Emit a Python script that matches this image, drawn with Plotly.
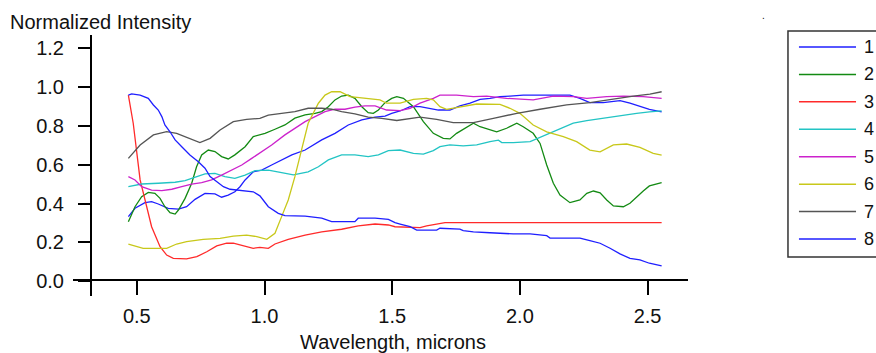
import plotly.graph_objects as go

# ---------------- data ----------------
series_names = ["1", "2", "3", "4", "5", "6", "7", "8"]
series_colors = ["#1f1fff", "#138a13", "#ff2a2a", "#22c4c4", "#cc22cc", "#c8c81a", "#555555", "#1f1fff"]

wl1 = [0.467, 0.493, 0.532, 0.558, 0.584, 0.623, 0.663, 0.695, 0.728, 0.767, 0.806, 0.832, 0.858, 0.884,
       0.904, 0.924, 0.956, 0.989, 1.028, 1.067, 1.107, 1.159, 1.224, 1.276, 1.328, 1.381, 1.433, 1.472,
       1.498, 1.531, 1.570, 1.609, 1.648, 1.681, 1.726, 1.765, 1.805, 1.844, 1.883, 1.922, 1.961, 2.013,
       2.131, 2.196, 2.235, 2.274, 2.326, 2.392, 2.431, 2.470, 2.507, 2.555]
s1 = [0.333, 0.376, 0.405, 0.410, 0.398, 0.376, 0.372, 0.384, 0.422, 0.453, 0.450, 0.433, 0.444, 0.461,
      0.487, 0.522, 0.564, 0.573, 0.599, 0.625, 0.651, 0.676, 0.728, 0.762, 0.805, 0.831, 0.845, 0.851,
      0.865, 0.877, 0.899, 0.899, 0.891, 0.882, 0.882, 0.903, 0.917, 0.937, 0.942, 0.951, 0.954, 0.959,
      0.959, 0.959, 0.942, 0.920, 0.920, 0.930, 0.917, 0.899, 0.885, 0.873]

wl2 = [0.467, 0.493, 0.519, 0.545, 0.571, 0.591, 0.610, 0.630, 0.650, 0.663, 0.689, 0.715, 0.734, 0.754,
       0.780, 0.806, 0.832, 0.858, 0.884, 0.924, 0.956, 0.982, 1.002, 1.041, 1.080, 1.119, 1.159, 1.198,
       1.224, 1.250, 1.276, 1.302, 1.328, 1.354, 1.381, 1.406, 1.426, 1.446, 1.472, 1.498, 1.518, 1.544,
       1.583, 1.622, 1.661, 1.700, 1.726, 1.752, 1.792, 1.818, 1.844, 1.883, 1.909, 1.948, 1.988, 2.013,
       2.052, 2.079, 2.105, 2.131, 2.157, 2.196, 2.235, 2.262, 2.288, 2.314, 2.340, 2.366, 2.405, 2.431,
       2.457, 2.483, 2.507, 2.555]
s2 = [0.307, 0.384, 0.436, 0.458, 0.453, 0.427, 0.384, 0.353, 0.346, 0.367, 0.427, 0.505, 0.590, 0.651,
      0.676, 0.668, 0.642, 0.630, 0.651, 0.693, 0.745, 0.754, 0.762, 0.783, 0.805, 0.840, 0.857, 0.865,
      0.874, 0.899, 0.934, 0.954, 0.959, 0.942, 0.899, 0.868, 0.865, 0.882, 0.920, 0.942, 0.951, 0.942,
      0.899, 0.822, 0.762, 0.736, 0.733, 0.762, 0.796, 0.814, 0.796, 0.779, 0.770, 0.788, 0.814, 0.796,
      0.762, 0.710, 0.599, 0.505, 0.444, 0.405, 0.419, 0.453, 0.465, 0.456, 0.419, 0.388, 0.384, 0.402,
      0.436, 0.465, 0.491, 0.508]

wl3 = [0.467, 0.486, 0.513, 0.532, 0.558, 0.591, 0.617, 0.643, 0.695, 0.735, 0.774, 0.813, 0.852, 0.878,
       0.917, 0.956, 0.982, 1.015, 1.041, 1.093, 1.159, 1.224, 1.302, 1.367, 1.433, 1.485, 1.511, 1.557,
       1.609, 1.635, 1.687, 1.707, 2.000, 2.300, 2.555]
s3 = [0.959, 0.814, 0.522, 0.419, 0.281, 0.178, 0.135, 0.118, 0.115, 0.127, 0.152, 0.182, 0.196, 0.196,
      0.182, 0.170, 0.175, 0.170, 0.192, 0.216, 0.238, 0.255, 0.268, 0.285, 0.295, 0.290, 0.281, 0.278,
      0.276, 0.285, 0.295, 0.302, 0.302, 0.302, 0.302]

wl4 = [0.467, 0.519, 0.584, 0.650, 0.689, 0.728, 0.767, 0.806, 0.845, 0.884, 0.924, 0.963, 1.015, 1.067,
       1.113, 1.171, 1.211, 1.250, 1.302, 1.354, 1.406, 1.446, 1.485, 1.531, 1.583, 1.622, 1.661, 1.687,
       1.726, 1.778, 1.831, 1.883, 1.916, 1.929, 1.974, 2.040, 2.105, 2.157, 2.209, 2.262, 2.326, 2.392,
       2.457, 2.507, 2.555]
s4 = [0.487, 0.501, 0.505, 0.510, 0.518, 0.536, 0.553, 0.556, 0.539, 0.530, 0.547, 0.570, 0.572, 0.560,
      0.548, 0.564, 0.590, 0.625, 0.651, 0.651, 0.642, 0.651, 0.673, 0.676, 0.659, 0.655, 0.673, 0.693,
      0.702, 0.697, 0.702, 0.719, 0.727, 0.714, 0.714, 0.719, 0.754, 0.783, 0.814, 0.827, 0.840, 0.852,
      0.865, 0.872, 0.878]

wl5 = [0.467, 0.493, 0.519, 0.558, 0.598, 0.637, 0.676, 0.715, 0.754, 0.793, 0.832, 0.872, 0.911, 0.950,
       0.989, 1.028, 1.080, 1.119, 1.159, 1.198, 1.237, 1.276, 1.315, 1.354, 1.393, 1.433, 1.478, 1.531,
       1.570, 1.609, 1.661, 1.687, 1.752, 1.818, 1.870, 1.948, 2.052, 2.131, 2.209, 2.262, 2.340, 2.405,
       2.483, 2.555]
s5 = [0.539, 0.522, 0.487, 0.470, 0.467, 0.474, 0.487, 0.500, 0.508, 0.522, 0.547, 0.573, 0.599, 0.633,
      0.667, 0.702, 0.754, 0.788, 0.822, 0.848, 0.874, 0.886, 0.886, 0.897, 0.903, 0.903, 0.882, 0.879,
      0.891, 0.917, 0.942, 0.959, 0.959, 0.951, 0.954, 0.942, 0.934, 0.954, 0.951, 0.942, 0.951, 0.954,
      0.951, 0.942]

wl6 = [0.467, 0.525, 0.617, 0.656, 0.695, 0.760, 0.826, 0.878, 0.930, 0.970, 1.009, 1.041, 1.067, 1.093,
       1.119, 1.146, 1.171, 1.211, 1.237, 1.263, 1.296, 1.335, 1.400, 1.452, 1.478, 1.531, 1.583, 1.635,
       1.661, 1.687, 1.713, 1.765, 1.831, 1.922, 1.961, 2.000, 2.052, 2.105, 2.170, 2.222, 2.274, 2.314,
       2.366, 2.418, 2.470, 2.522, 2.555]
s6 = [0.192, 0.170, 0.170, 0.192, 0.204, 0.216, 0.221, 0.233, 0.238, 0.230, 0.216, 0.247, 0.333, 0.419,
      0.539, 0.676, 0.814, 0.917, 0.959, 0.976, 0.976, 0.951, 0.942, 0.934, 0.917, 0.917, 0.937, 0.942,
      0.934, 0.899, 0.885, 0.899, 0.913, 0.911, 0.891, 0.865, 0.805, 0.770, 0.745, 0.719, 0.676, 0.667,
      0.702, 0.707, 0.690, 0.659, 0.650]

wl7 = [0.467, 0.513, 0.565, 0.617, 0.656, 0.695, 0.747, 0.787, 0.826, 0.878, 0.930, 0.982, 1.015, 1.067,
       1.119, 1.171, 1.224, 1.263, 1.302, 1.354, 1.406, 1.459, 1.518, 1.609, 1.674, 1.739, 1.818, 1.896,
       1.988, 2.079, 2.183, 2.274, 2.353, 2.444, 2.509, 2.555]
s7 = [0.633, 0.702, 0.754, 0.771, 0.762, 0.742, 0.714, 0.736, 0.779, 0.822, 0.834, 0.839, 0.856, 0.865,
      0.874, 0.891, 0.891, 0.886, 0.874, 0.862, 0.845, 0.839, 0.828, 0.845, 0.834, 0.817, 0.817, 0.839,
      0.865, 0.886, 0.908, 0.920, 0.937, 0.954, 0.964, 0.976]

wl8 = [0.467, 0.480, 0.513, 0.545, 0.565, 0.584, 0.598, 0.610, 0.630, 0.650, 0.676, 0.708, 0.741, 0.767,
       0.787, 0.813, 0.839, 0.865, 0.891, 0.930, 0.956, 0.982, 1.015, 1.054, 1.080, 1.159, 1.224, 1.263,
       1.354, 1.367, 1.433, 1.485, 1.511, 1.531, 1.570, 1.596, 1.674, 1.687, 1.765, 1.778, 1.818, 1.883,
       1.974, 2.040, 2.105, 2.118, 2.235, 2.274, 2.314, 2.353, 2.392, 2.431, 2.470, 2.507, 2.530, 2.555]
s8 = [0.959, 0.965, 0.959, 0.942, 0.908, 0.882, 0.848, 0.805, 0.770, 0.728, 0.693, 0.650, 0.616, 0.582,
      0.539, 0.513, 0.487, 0.474, 0.470, 0.467, 0.461, 0.440, 0.384, 0.350, 0.338, 0.336, 0.325, 0.307,
      0.307, 0.325, 0.325, 0.319, 0.302, 0.295, 0.281, 0.264, 0.264, 0.273, 0.269, 0.261, 0.255, 0.250,
      0.244, 0.244, 0.235, 0.223, 0.222, 0.209, 0.196, 0.170, 0.141, 0.118, 0.110, 0.093, 0.087, 0.079]

x_ticks = [0.5, 1.0, 1.5, 2.0, 2.5]
y_ticks = [0.0, 0.2, 0.4, 0.6, 0.8, 1.0, 1.2]

y_title = "Normalized Intensity"
x_title = "Wavelength, microns"

all_x = [wl1, wl2, wl3, wl4, wl5, wl6, wl7, wl8]
all_y = [s1, s2, s3, s4, s5, s6, s7, s8]

# ---------------- figure ----------------
FONT = "Liberation Sans, Arial, sans-serif"
W, H = 876, 353
ML, MR, MT, MB = 73, 0, 20, 57
PW = W - ML - MR          # paper width (803)
PH = H - MT - MB          # paper height (276)
PAPER_LEFT = ML
PAPER_BOTTOM = H - MB


def px_x(p):
    return (p - PAPER_LEFT) / PW


def px_y(p):
    return (PAPER_BOTTOM - p) / PH


fig = go.Figure()

for xs, ys, name, col in zip(all_x, all_y, series_names, series_colors):
    fig.add_trace(go.Scatter(x=xs, y=ys, mode="lines", name=name,
                             line=dict(color=col, width=1.3), showlegend=False,
                             xaxis="x", yaxis="y"))

# ---- legend panel drawn as a small subplot (x2/y2) ----
# x2 spans the panel horizontally (0..1), y2 counts legend rows (1..8)
BOX_X = [1.3, 0.022, 0.022, 1.3]          # frame runs off the right edge (clipped)
BOX_Y = [0.417, 0.417, 8.656, 8.656]      # top / bottom of the frame in row units
SAMPLE_X = [0.144, 0.778]
LABEL_X = 0.84
fig.add_trace(go.Scatter(x=BOX_X, y=BOX_Y, mode="lines", line=dict(color="#333", width=1.5),
                         showlegend=False, xaxis="x2", yaxis="y2", hoverinfo="skip"))
for i, (name, col) in enumerate(zip(series_names, series_colors)):
    fig.add_trace(go.Scatter(x=SAMPLE_X, y=[i + 1, i + 1], mode="lines",
                             line=dict(color=col, width=1.5), showlegend=False,
                             xaxis="x2", yaxis="y2", hoverinfo="skip"))
    fig.add_annotation(x=LABEL_X, y=i + 1, xref="x2", yref="y2", text=name,
                       showarrow=False, xanchor="left", yanchor="middle",
                       font=dict(family=FONT, size=18, color="#111"))

axis_font = dict(family=FONT, size=20, color="#111")
hidden = dict(showline=False, showticklabels=False, ticks="", showgrid=False, zeroline=False)

fig.update_layout(
    width=W, height=H,
    margin=dict(l=ML, r=MR, t=MT, b=MB),
    paper_bgcolor="white", plot_bgcolor="white",
    showlegend=False,
    xaxis=dict(domain=[0, px_x(688)], range=[0.2502, 2.6582], anchor="free", position=px_y(280),
               showline=True, linecolor="black", linewidth=2,
               ticks="outside", ticklen=14, tickwidth=2, tickcolor="black",
               tickvals=x_ticks, tickformat=".1f", tickfont=axis_font,
               ticklabelstandoff=4,
               showgrid=False, zeroline=False),
    yaxis=dict(domain=[0, px_y(35)], range=[-0.0757, 1.2683], anchor="free", position=px_x(91),
               showline=True, linecolor="black", linewidth=2,
               ticks="outside", ticklen=12, tickwidth=2, tickcolor="black",
               tickvals=y_ticks, tickformat=".1f", tickfont=axis_font,
               ticklabelstandoff=10,
               showgrid=False, zeroline=False),
    xaxis2=dict(domain=[px_x(786), 1.0], range=[0, 1], anchor="y2", **hidden),
    yaxis2=dict(domain=[px_y(260), px_y(28)], range=[8.765, 0.307], anchor="x2", **hidden),
)

fig.add_annotation(text=y_title, xref="paper", yref="paper",
                   x=px_x(8), y=px_y(21.5),
                   xanchor="left", yanchor="middle", showarrow=False,
                   font=dict(family=FONT, size=20, color="#111"))
fig.add_annotation(text=x_title, xref="paper", yref="paper",
                   x=px_x(393), y=px_y(342),
                   xanchor="center", yanchor="middle", showarrow=False,
                   font=dict(family=FONT, size=20, color="#111"))
fig.add_annotation(text=".", xref="paper", yref="paper",
                   x=px_x(763), y=px_y(16),
                   xanchor="center", yanchor="middle", showarrow=False,
                   font=dict(family=FONT, size=10, color="#111"))

# remove the default page margin so the figure fills the window exactly
fig.write_html("out.html",
               config={"displayModeBar": False},
               post_script="document.body.style.margin='0';document.body.style.overflow='hidden';")
